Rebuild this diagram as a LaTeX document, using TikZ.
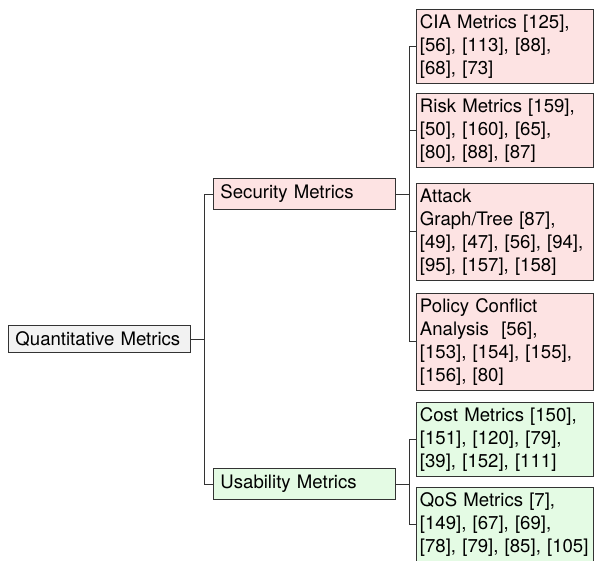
\documentclass[tikz,border=0pt]{standalone}
\usepackage{fontspec}
\setmainfont{TeX Gyre Heros}
\definecolor{rootfill}{HTML}{F2F2F2}
\definecolor{secfill}{HTML}{FDE3E3}
\definecolor{usefill}{HTML}{E4FBE4}
\definecolor{linec}{HTML}{333333}
\tikzset{
  base/.style={draw=linec, line width=0.9pt, font=\fontsize{18.6}{23}\selectfont, align=left, anchor=west},
  lvl/.style={base, text width=168pt, inner xsep=7pt, inner ysep=6.4pt},
  leaf/.style={base, text width=170pt, inner xsep=3.5pt, inner ysep=5pt, anchor=north west},
  conn/.style={draw=linec, line width=0.9pt},
}
\begin{document}
\begin{tikzpicture}[x=1pt,y=-1pt]
\useasboundingbox (0,0) rectangle (594,561);
\clip (0,0) rectangle (594,561);
\node[lvl, fill=rootfill] (root) at (8,339) {Quantitative Metrics};
\node[lvl, fill=secfill] (sec) at (213,194) {Security Metrics};
\node[lvl, fill=usefill] (use) at (213,484) {Usability Metrics};
\node[leaf, fill=secfill] (cia) at (416,9.5) {CIA Metrics [125],\\{}[56], [113], [88],\\{}[68], [73]};
\node[leaf, fill=secfill] (risk) at (416,93) {Risk Metrics [159],\\{}[50], [160], [65],\\{}[80], [88], [87]};
\node[leaf, fill=secfill] (att) at (416,183) {Attack\\{}Graph/Tree [87],\\{}[49], [47], [56], [94],\\{}[95], [157], [158]};
\node[leaf, fill=secfill] (pol) at (416,293) {Policy Conflict\\{}Analysis\ \ [56],\\{}[153], [154], [155],\\{}[156], [80]};
\node[leaf, fill=usefill] (cost) at (416,402) {Cost Metrics [150],\\{}[151], [120], [79],\\{}[39], [152], [111]};
\node[leaf, fill=usefill] (qos) at (416,487) {QoS Metrics [7],\\{}[149], [67], [69],\\{}[78], [79], [85], [105]};
\draw[conn] (root.east) -- ++(14,0) |- (sec.west);
\draw[conn] (root.east) -- ++(14,0) |- (use.west);
\foreach \c in {cia,risk,att,pol} \draw[conn] (sec.east) -- ++(14,0) |- (\c.west);
\foreach \c in {cost,qos} \draw[conn] (use.east) -- ++(14,0) |- (\c.west);
\end{tikzpicture}
\end{document}
